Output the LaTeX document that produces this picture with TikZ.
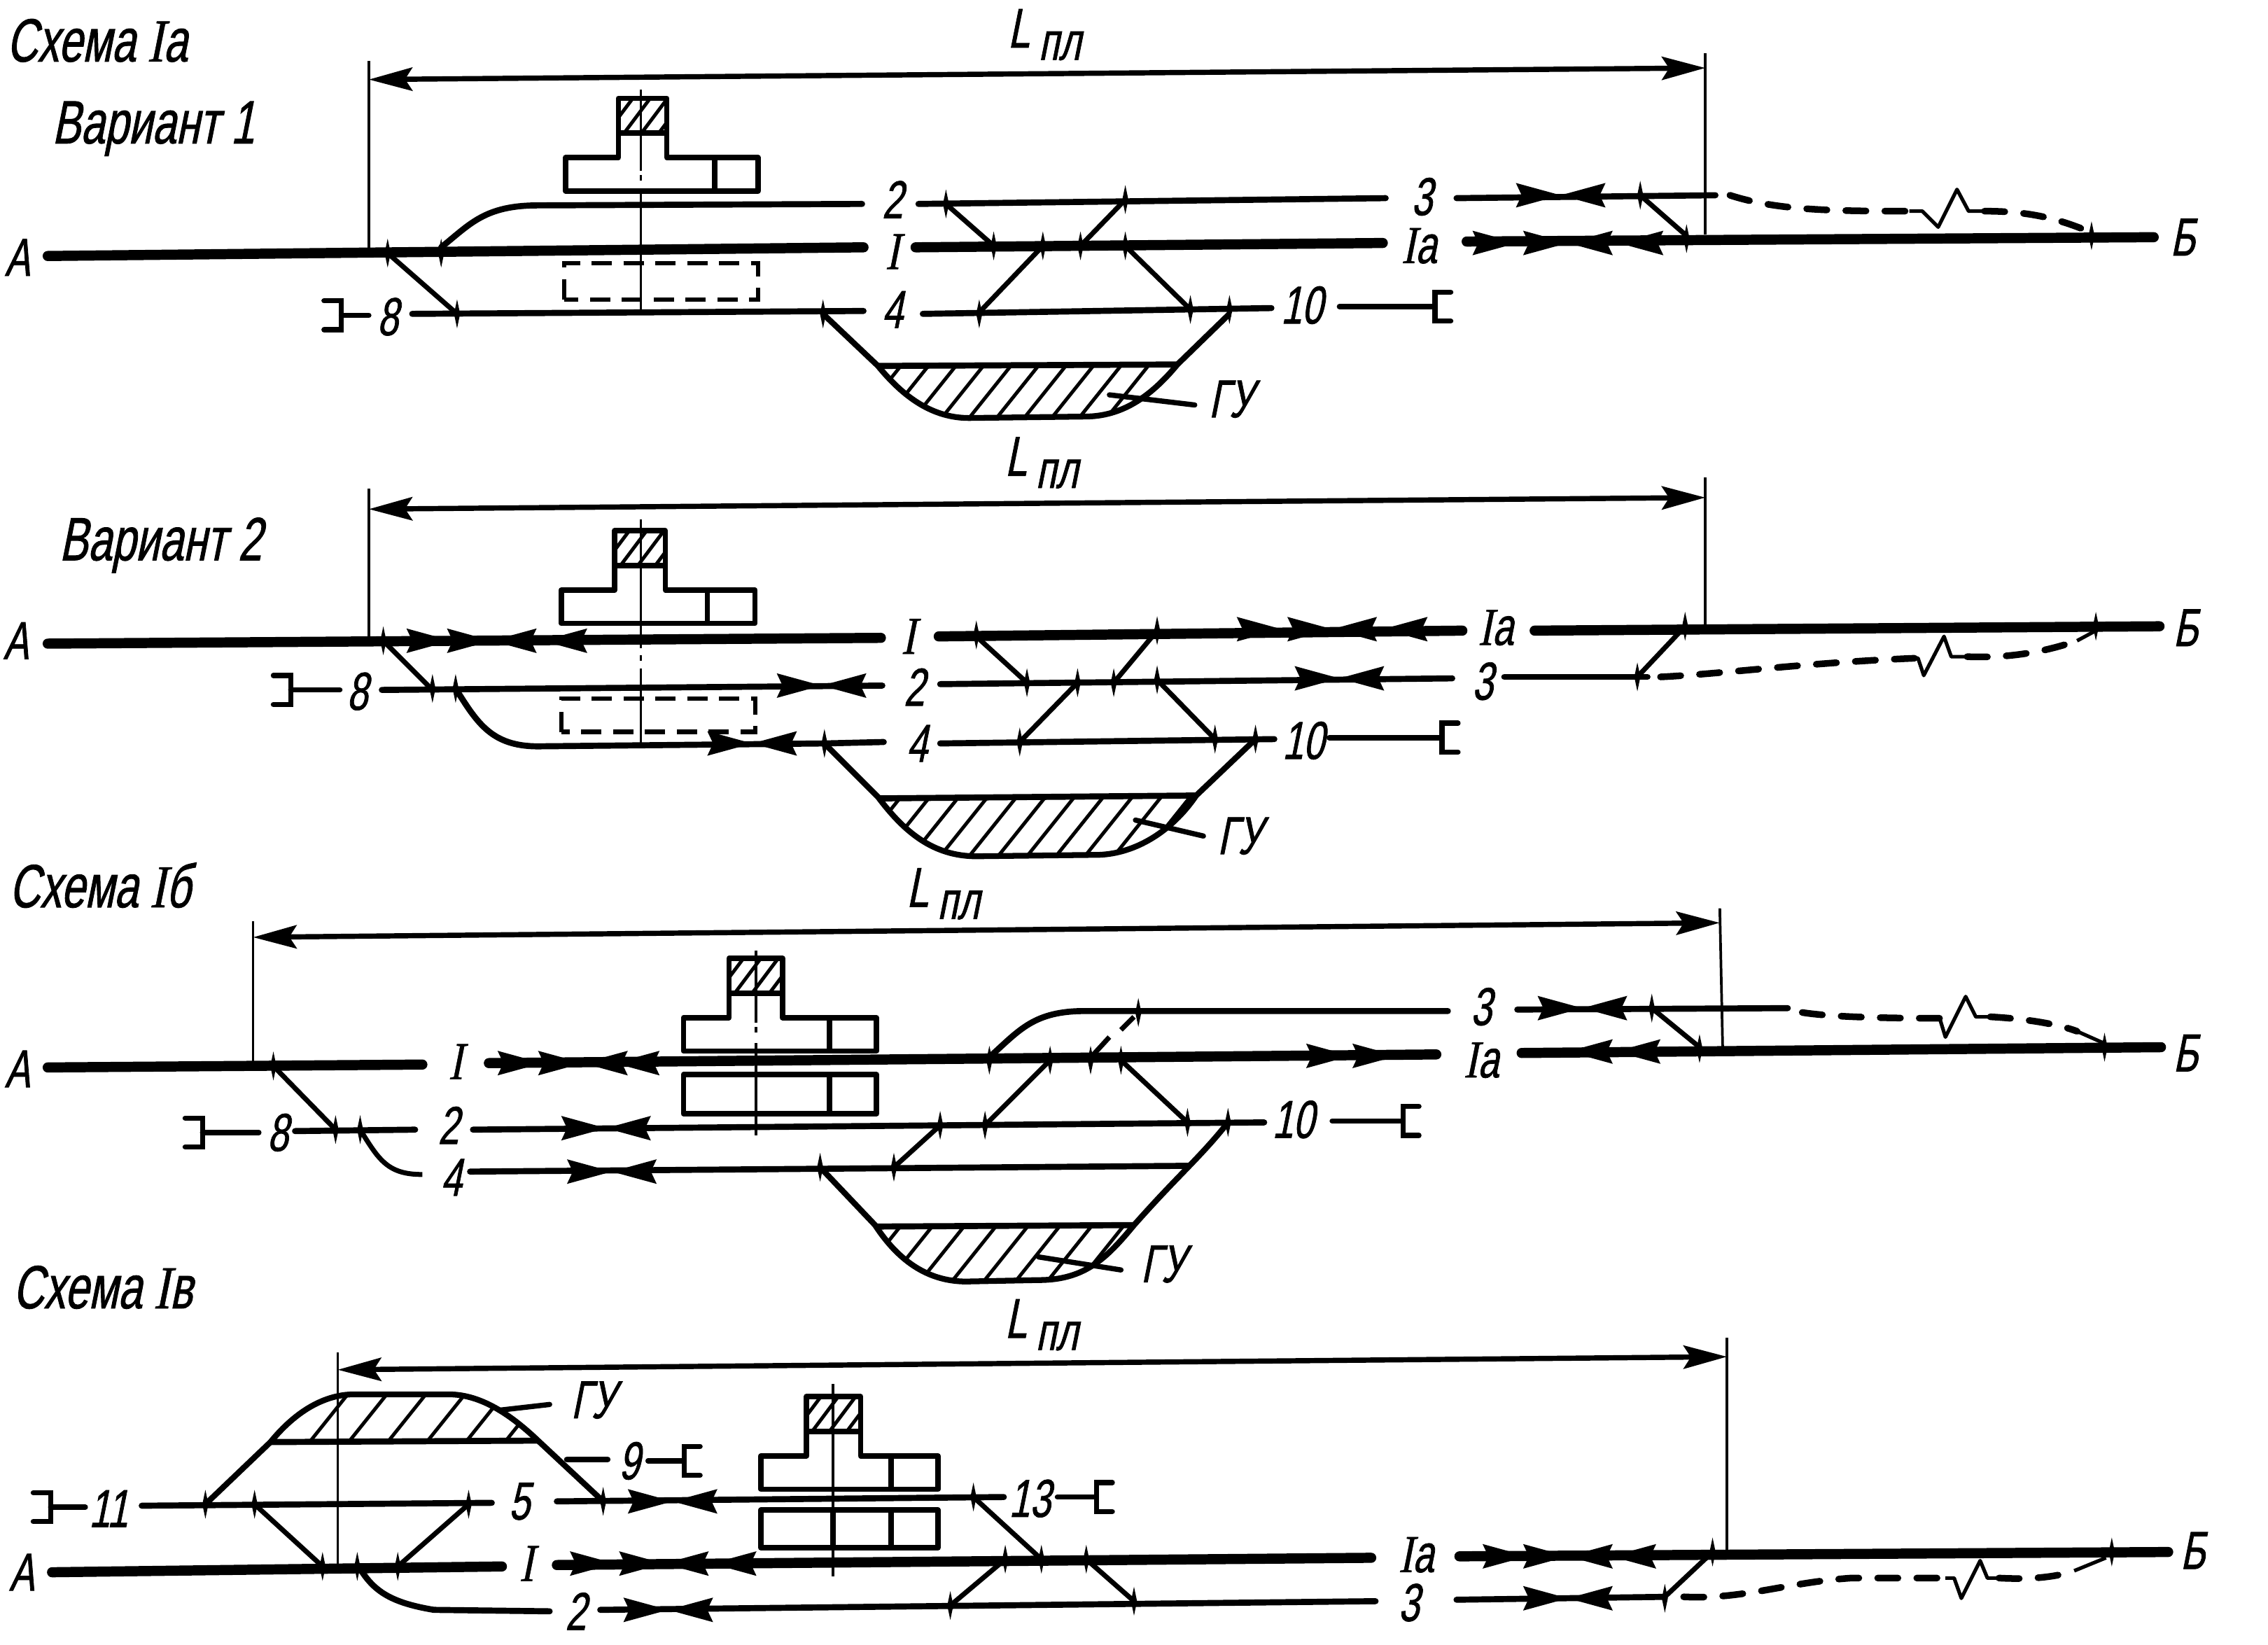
\documentclass[tikz,border=0pt]{standalone}
\usepackage{fontspec}
\newfontfamily\gost[FakeSlant=0.2,FakeStretch=0.7,FakeBold=1]{Liberation Sans}
\newfontfamily\gostrm[FakeSlant=0.2,FakeStretch=0.8,FakeBold=0.6]{Liberation Serif}
\usetikzlibrary{arrows.meta}
\newcommand*\rI{{\gostrm I}}
\newcommand*\pl{\raisebox{-2.4pt}{\fontsize{10.5}{11}\selectfont\,пл}}
\def\ticks#1{\foreach \x/\y in {#1} {\fill (\x,\y) ++(0,-10) -- ++(2.1,10) -- ++(-2.1,10) -- ++(-2.1,-10) -- cycle;}}
\def\headsr#1{\foreach \x/\y in {#1} {\fill (\x,\y) -- ++(-31,-8.5) -- ++(4,8.5) -- ++(-4,8.5) -- cycle;}}
\def\headsl#1{\foreach \x/\y in {#1} {\fill (\x,\y) -- ++(31,-8.5) -- ++(-4,8.5) -- ++(4,8.5) -- cycle;}}
\def\capl(#1,#2,#3){\draw[stopline] (#1,#2) ++(-12,-10) -- ++(12,0) -- ++(0,20) -- ++(-12,0); \draw[stopline] (#1,#2) -- (#3,#2);}
\def\capr(#1,#2,#3){\draw[stopline] (#1,#2) ++(11,-10) -- ++(-11,0) -- ++(0,20) -- ++(11,0); \draw[stopline] (#3,#2) -- (#1,#2);}
% tower left, top, tower right, block left, block right, divider
\newcommand*\station[6]{
\begin{scope}
\clip (#1,#2) rectangle (#3,#2+24);
\foreach \k in {-8,4,...,40} {\draw[hatchline] (#1+\k,#2+24) -- ++(18,-24);}
\end{scope}
\draw[house] (#4,#2+41) -- (#1,#2+41) -- (#1,#2) -- (#3,#2) -- (#3,#2+41) -- (#5,#2+41) -- (#5,#2+64) -- (#4,#2+64) -- cycle;
\draw[house] (#1,#2+24) -- (#3,#2+24);
\draw[house] (#6,#2+41) -- (#6,#2+64);
}
\newcommand*\hatching[5]{
\foreach \k in {#1,#2,...,#3} {\draw[hatchline] (\k,#4) -- ++(0.8*#4-0.8*#5,#5-#4);}
}

\begin{document}
\begin{tikzpicture}[x=0.01cm,y=-0.01cm,
mainline/.style={line width=0.07cm,line cap=round},
sideline/.style={line width=0.042cm,line cap=round},
branch/.style={line width=0.034cm},
thinny/.style={line width=0.018cm},
dimline/.style={line width=0.036cm,{Stealth[length=0.3cm,width=0.16cm,inset=0.05cm]}-{Stealth[length=0.3cm,width=0.16cm,inset=0.05cm]}},
stopline/.style={line width=0.036cm,line cap=round},
house/.style={line width=0.037cm,line join=round},
hatchline/.style={line width=0.024cm},
bowl/.style={line width=0.04cm},
chord/.style={line width=0.042cm},
plandash/.style={line width=0.03cm,dash pattern=on 0.14cm off 0.08cm},
futuredash/.style={line width=0.046cm,line cap=round,dash pattern=on 0.14cm off 0.13cm},
zigline/.style={line width=0.025cm,line join=round},
lbl/.style={font=\gost\fontsize{10.5}{11}\selectfont,inner sep=0pt},
title/.style={font=\gost\fontsize{12}{13}\selectfont,inner sep=0pt},
lpl/.style={font=\gost\fontsize{11}{12}\selectfont,inner sep=0pt}]
\useasboundingbox (0,0) rectangle (1568,1137);

% scheme Ia, first variant
\node[title] (t1) at (67,28) {Схема \rI а};
\node[title] (v1) at (106,89) {Вариант 1};
\node[lpl] (l1) at (722,24) {L\pl};
\draw[thinny] (255,42) -- (255,174);
\draw[thinny] (1179,37) -- (1179,162);
\draw[dimline] (255,55) -- (1179,47);
\station{427.5}{68}{461}{391}{524}{494}
\draw[thinny] (443,62) -- (443,118);
\draw[thinny] (443,121) -- (443,125);
\draw[thinny] (443,133) -- (443,215);
\draw[plandash] (390,207) rectangle (524,182);

\draw[mainline] (33,177) -- (597,171);
\draw[mainline] (633,171) -- (956,168);
\draw[mainline] (1014,167) -- (1489,164);
\draw[sideline] (305,171) .. controls (325,155) and (335,142) .. (372,142) -- (596,141);
\draw[sideline] (635,141) -- (958,137);
\draw[sideline] (1007,137) -- (1186,135);
\draw[sideline] (285,217) -- (597,215);
\draw[sideline] (638,217) -- (879,213);
\draw[branch] (654,141) -- (687,170);
\draw[branch] (778,138) -- (747,170);
\draw[branch] (721,170) -- (677,216);
\draw[branch] (778,170) -- (823,214);
\draw[branch] (268,175) -- (316,217);
\draw[branch] (1134,135) -- (1166,163);
\ticks{268/175,305/175,654/141,778/138,687/170,721/170,747/170,778/170,316/217,569/217,677/217,823/214,850/214,1134/135,1166/165,1446/163}
\headsr{1049/168,1084/168,1079/135}
\headsl{1084/168,1119/168,1079/135}
\draw[futuredash] (1196,135) .. controls (1230,146) and (1270,146) .. (1329,146);
\draw[zigline] (1320,146) -- (1329,146) -- (1340,157) -- (1353,131) -- (1361,146) -- (1372,146);
\draw[futuredash] (1372,146) .. controls (1400,146) and (1420,150) .. (1444,160);
\begin{scope}
\clip (607,253) .. controls (625,275) and (645,289) .. (670,289) -- (750,288) .. controls (775,288) and (795,275) .. (814,252) -- cycle;
\hatching{575}{594}{810}{289}{253}
\end{scope}
\draw[bowl] (569,217) -- (607,253) .. controls (625,275) and (645,289) .. (670,289) -- (750,288) .. controls (775,288) and (795,275) .. (814,252) -- (850,217);
\draw[chord] (607,253) -- (814,252);
\draw[stopline] (767,273) -- (826,280);
\capl(236,218,255)
\capr(992,212,926)
\node[lbl] (a1) at (12,178) {А};
\node[lbl] (b1) at (1509,164) {Б};
\node[lbl] (i1) at (617,174) {\rI};
\node[lbl] (ia1) at (981,170) {\rI а};
\node[lbl] (n21) at (617,138) {2};
\node[lbl] (n31) at (983,136) {3};
\node[lbl] (n41) at (617,214) {4};
\node[lbl] (n81) at (268,219) {8};
\node[lbl] (n101) at (900,211) {10};
\node[lbl] (gu1) at (851,276) {ГУ};

% second variant
\node[title] (v2) at (111,377) {Вариант 2};
\node[lpl] (l2) at (720,320) {L\pl};
\draw[thinny] (255,338) -- (255,441);
\draw[thinny] (1179,330) -- (1179,433);
\draw[dimline] (255,352) -- (1179,344);
\station{425}{367}{460}{388}{522}{489}
\draw[thinny] (443,359) -- (443,448);
\draw[thinny] (443,453) -- (443,457);
\draw[thinny] (443,462) -- (443,514);
\draw[plandash] (388,506) rectangle (522,483);

\draw[mainline] (33,445) -- (609,441);
\draw[mainline] (649,440) -- (1011,436);
\draw[mainline] (1061,436) -- (1493,433);
\draw[sideline] (264,477) -- (610,474);
\draw[sideline] (650,473) -- (1004,469);
\draw[sideline] (1040,468) -- (1139,468);
\draw[sideline] (570,514) -- (611,513);
\draw[sideline] (650,514) -- (881,511);
\draw[sideline] (315,476) .. controls (330,500) and (340,516) .. (372,516) -- (570,514);
\draw[branch] (265,443) -- (298,476);
\draw[branch] (675,440) -- (710,472);
\draw[branch] (745,472) -- (705,513);
\draw[branch] (770,472) -- (800,436);
\draw[branch] (800,470) -- (840,511);
\draw[branch] (1132,468) -- (1165,433);
\ticks{265/443,299/476,315/476,675/439,710/472,745/472,770/472,800/436,800/470,570/514,705/513,840/511,868/511,1132/468,1165/433,1449/433}
\headsr{312/443,340/443,568/474,520/514,886/435,921/435,926/469}
\headsl{340/443,375/443,568/474,520/514,921/435,956/435,926/469}
\draw[futuredash] (1148,468) .. controls (1190,466) and (1250,458) .. (1326,455);
\draw[zigline] (1316,455) -- (1326,455) -- (1330,467) -- (1344,440) -- (1349,454) -- (1360,454);
\draw[futuredash] (1360,454) .. controls (1385,455) and (1410,452) .. (1436,443);
\draw[zigline] (1436,443) -- (1449,436);
\begin{scope}
\clip (607,551) .. controls (625,575) and (645,592) .. (675,592) -- (760,591) .. controls (785,590) and (810,575) .. (827,550) -- cycle;
\hatching{570}{590}{825}{592}{551}
\end{scope}
\draw[bowl] (570,514) -- (607,551) .. controls (625,575) and (645,592) .. (675,592) -- (760,591) .. controls (785,590) and (810,575) .. (827,550) -- (868,511);
\draw[chord] (607,552) -- (827,550);
\draw[stopline] (785,567) -- (832,578);
\capl(201,477,235)
\capr(997,510,919)
\node[lbl] (a2) at (11,443) {А};
\node[lbl] (b2) at (1511,434) {Б};
\node[lbl] (i2) at (628,440) {\rI};
\node[lbl] (ia2) at (1034,434) {\rI а};
\node[lbl] (n22) at (632,475) {2};
\node[lbl] (n32) at (1025,471) {3};
\node[lbl] (n42) at (634,514) {4};
\node[lbl] (n82) at (247,478) {8};
\node[lbl] (n102) at (901,512) {10};
\node[lbl] (gu2) at (857,578) {ГУ};

% scheme Ib
\node[title] (t3) at (69,612) {Схема \rI б};
\node[lpl] (l3) at (652,618) {L\pl};
\draw[thinny] (175,637) -- (175,735);
\draw[thinny] (1189,628) -- (1191,725);
\draw[dimline] (175,648) -- (1189,638);
\station{504}{662.6}{541}{472.5}{606}{573.5}
\draw[house] (472.5,770) rectangle (606,743);
\draw[house] (573.5,743) -- (573.5,770);
\draw[thinny] (522.5,657) -- (522.5,707);
\draw[thinny] (522.5,710) -- (522.5,714);
\draw[thinny] (522.5,721) -- (522.5,785);

\draw[mainline] (33,738) -- (292,736);
\draw[mainline] (338,735) -- (993,729);
\draw[mainline] (1052,728) -- (1494,724);
\draw[sideline] (685,730) .. controls (705,712) and (715,699) .. (750,699) -- (1001,699);
\draw[sideline] (1049,698) -- (1236,697);
\draw[sideline] (204,782) -- (287,781);
\draw[sideline] (327,781) -- (874,776);
\draw[sideline] (325,810) -- (822,806);
\draw[branch] (249,781) .. controls (262,802) and (268,812) .. (292,812);
\draw[branch] (189,737) -- (232,781);
\draw[branch] (726,733) -- (681,778);
\draw[branch] (650,778) -- (618,807);
\draw[branch] (775,733) -- (821,776);
\draw[branch] (1142,697) -- (1175,724);
\draw[branch] (784,703) -- (775,712);
\draw[branch] (767,717) -- (756,729);
\ticks{189/737,232/781,249/781,684/733,726/733,754/733,775/733,787/700,650/778,681/778,821/776,849/776,567/807,618/807,1142/697,1175/725,1455/724}
\headsr{375/735,403/735,419/780,423/810,934/730,966/730,1094/697}
\headsl{403/735,425/735,419/780,423/810,1084/727,1117/727,1094/697}
\draw[futuredash] (1246,700) .. controls (1265,703) and (1300,704) .. (1341,704);
\draw[zigline] (1334,704) -- (1341,704) -- (1345,717) -- (1359,689) -- (1366,703) -- (1376,703);
\draw[futuredash] (1376,703) .. controls (1395,704) and (1420,707) .. (1436,713);
\draw[zigline] (1436,713) -- (1454,721);
\begin{scope}
\clip (605,847) .. controls (620,870) and (640,886) .. (668,886) -- (718,885) .. controls (750,885) and (765,870) .. (784,847) -- cycle;
\hatching{570}{592}{790}{886}{847}
\end{scope}
\draw[bowl] (567,807) -- (605,847) .. controls (620,870) and (640,886) .. (668,886) -- (718,885) .. controls (750,885) and (765,870) .. (784,847) .. controls (815,812) and (830,800) .. (849,776);
\draw[chord] (605,848) -- (784,847);
\draw[stopline] (718,869) -- (775,878);
\capl(140,783,179)
\capr(970,775,921)
\node[lbl] (a3) at (12,739) {А};
\node[lbl] (b3) at (1511,728) {Б};
\node[lbl] (i3) at (315,734) {\rI};
\node[lbl] (ia3) at (1024,733) {\rI а};
\node[lbl] (n23) at (310,778) {2};
\node[lbl] (n33) at (1024,696) {3};
\node[lbl] (n43) at (312,814) {4};
\node[lbl] (n83) at (192,783) {8};
\node[lbl] (n103) at (894,774) {10};
\node[lbl] (gu3) at (804,874) {ГУ};

% scheme Iv
\node[title] (t4) at (71,890) {Схема \rI в};
\node[lpl] (l4) at (720,916) {L\pl};
\draw[thinny] (233.5,935) -- (233.5,1083);
\draw[thinny] (1194,925) -- (1194,1072);
\draw[dimline] (233.5,947) -- (1194,938);
\station{557.5}{965.6}{595}{526}{648.5}{616}
\draw[house] (526,1070) rectangle (648.5,1044);
\draw[house] (576,1044) -- (576,1070);
\draw[house] (616,1044) -- (616,1070);
\draw[thinny] (576,957) -- (576,1090);

\draw[mainline] (36,1087) -- (347,1083);
\draw[mainline] (385,1082) -- (948,1077);
\draw[mainline] (1009,1076) -- (1499,1073);
\draw[sideline] (98,1041) -- (340,1039);
\draw[sideline] (385,1038) -- (694,1035);
\draw[sideline] (392,1009) -- (420,1009);
\draw[sideline] (415,1113) -- (951,1107);
\draw[sideline] (1007,1106) -- (1151,1104);
\draw[sideline] (380,1114) -- (300,1113) .. controls (270,1108) and (258,1100) .. (248,1083);
\draw[branch] (176,1040) -- (223,1083);
\draw[branch] (324,1040) -- (275,1083);
\draw[branch] (673,1035) -- (720,1078);
\draw[branch] (695,1078) -- (657,1110);
\draw[branch] (751,1078) -- (784,1107);
\draw[branch] (1151,1104) -- (1184,1073);
\ticks{142/1040,176/1040,324/1040,417/1038,673/1035,223/1083,247/1083,275/1083,695/1078,720/1078,751/1078,657/1110,784/1107,1151/1105,1184/1073,1460/1073}
\headsr{425/1081,459/1081,465/1038,462/1113,1056/1076,1084/1076,1084/1105}
\headsl{459/1081,492/1081,465/1038,462/1113,1084/1076,1114/1076,1084/1105}
\draw[futuredash] (1164,1104) .. controls (1205,1106) and (1235,1094) .. (1280,1091) -- (1351,1091);
\draw[zigline] (1345,1091) -- (1351,1091) -- (1356,1105) -- (1369,1079) -- (1374,1091) -- (1382,1091);
\draw[futuredash] (1382,1091) .. controls (1400,1092) and (1420,1091) .. (1434,1086);
\draw[zigline] (1434,1086) -- (1456,1077);
\begin{scope}
\clip (187,997) .. controls (205,975) and (225,964) .. (245,964) -- (310,964) .. controls (330,964) and (350,975) .. (372,996) -- cycle;
\hatching{160}{187}{372}{997}{964}
\end{scope}
\draw[bowl] (142,1040) -- (187,997) .. controls (205,975) and (225,964) .. (245,964) -- (310,964) .. controls (330,964) and (350,975) .. (372,996) -- (417,1038);
\draw[chord] (187,997) -- (372,996);
\draw[stopline] (345,975) -- (380,971);
\capl(35,1042,59)
\capr(473,1010,448)
\capr(758,1035,731)
\node[lbl] (a4) at (15,1087) {А};
\node[lbl] (b4) at (1516,1072) {Б};
\node[lbl] (i4) at (364,1081) {\rI};
\node[lbl] (ia4) at (979,1075) {\rI а};
\node[lbl] (n24) at (398,1114) {2};
\node[lbl] (n34) at (974,1108) {3};
\node[lbl] (n54) at (359,1038) {5};
\node[lbl] (n94) at (435,1010) {9};
\node[lbl] (n114) at (75,1043) {11};
\node[lbl] (n134) at (712,1036) {13};
\node[lbl] (gu4) at (410,968) {ГУ};
\end{tikzpicture}
\end{document}
